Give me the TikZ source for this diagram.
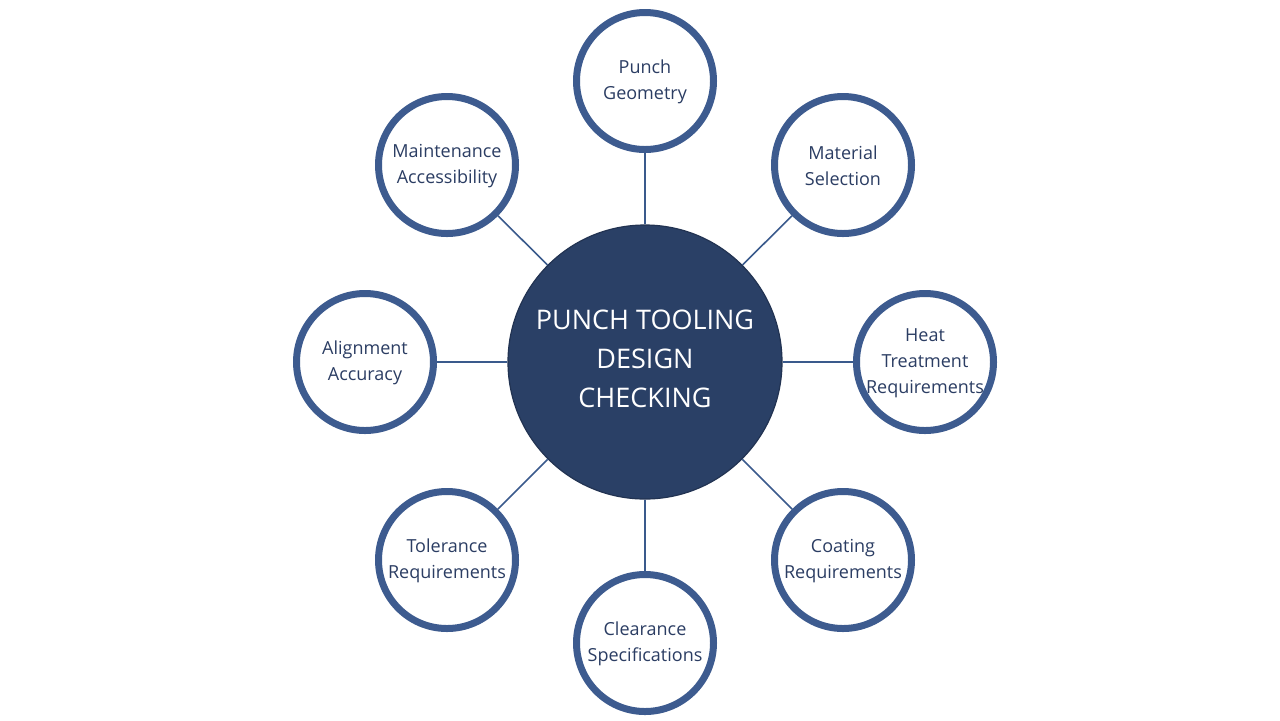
\documentclass[tikz,border=0pt]{standalone}
\usepackage{fontspec}
\setmainfont{Open Sans}
\usepackage{xcolor}
\usepackage{tikz}
\usetikzlibrary{positioning,calc}

\definecolor{hubfill}{HTML}{2A4066}
\definecolor{ringblue}{HTML}{3D5B8F}
\definecolor{labelblue}{HTML}{2B3D63}
\definecolor{spokeblue}{HTML}{3A5A8C}

\tikzset{
    hub/.style={circle, fill=hubfill, draw=hubfill!80!black, line width=0.6pt,
        minimum size=137pt, inner sep=0pt},
    hubtext/.style={text=white, align=center, yshift=1.5pt,
        font=\fontsize{13.5}{19.5}\selectfont},
    topic/.style={circle, fill=white, draw=ringblue, line width=3.5pt,
        minimum size=68.5pt, inner sep=0pt},
    topictext/.style={text=labelblue, align=center, yshift=-0.5pt,
        font=\fontsize{9}{13}\selectfont},
    spoke/.style={draw=spokeblue, line width=0.8pt}
}

\begin{document}
\begin{tikzpicture}[x=0.5pt, y=-0.5pt]
        \useasboundingbox (0,0) rectangle (1280,720);
        % Hub
        \node[hub, label={[hubtext]center:PUNCH TOOLING\\DESIGN\\CHECKING}] (hub) at (645,362) {};
        % Topics
        \node[topic, label={[topictext]center:Punch\\Geometry}]               (geometry)    at (645,81)  {};
        \node[topic, label={[topictext]center:Material\\Selection}]           (material)    at (843,165) {};
        \node[topic, label={[topictext]center:Heat\\Treatment\\Requirements}] (heat)        at (925,362) {};
        \node[topic, label={[topictext]center:Coating\\Requirements}]         (coating)     at (843,560) {};
        \node[topic, label={[topictext]center:Clearance\\Specifications}]     (clearance)   at (645,643) {};
        \node[topic, label={[topictext]center:Tolerance\\Requirements}]       (tolerance)   at (447,560) {};
        \node[topic, label={[topictext]center:Alignment\\Accuracy}]           (alignment)   at (365,362) {};
        \node[topic, label={[topictext]center:Maintenance\\Accessibility}]    (maintenance) at (447,165) {};
        % Spokes
        \draw[spoke] (hub) -- (geometry);
        \draw[spoke] (hub) -- (material);
        \draw[spoke] (hub) -- (heat);
        \draw[spoke] (hub) -- (coating);
        \draw[spoke] (hub) -- (clearance);
        \draw[spoke] (hub) -- (tolerance);
        \draw[spoke] (hub) -- (alignment);
        \draw[spoke] (hub) -- (maintenance);
    \end{tikzpicture}
\end{document}
